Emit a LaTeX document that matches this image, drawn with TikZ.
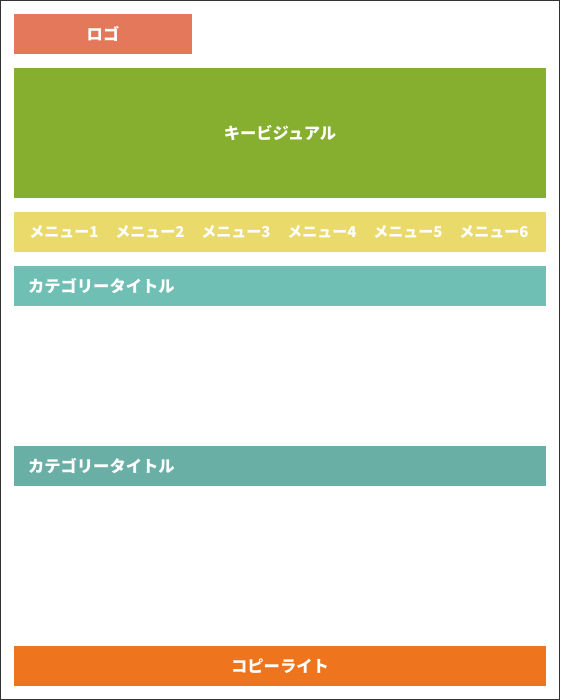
\documentclass[tikz,border=0pt]{standalone}
\usepackage{fontspec}
\setmainfont{Noto Sans CJK JP}
\usetikzlibrary{positioning}

\definecolor{logocol}{HTML}{E4785A}
\definecolor{visualcol}{HTML}{86AE2F}
\definecolor{menucol}{HTML}{E9DA6B}
\definecolor{catcol}{HTML}{6FBFB4}
\definecolor{catcoldark}{HTML}{6AAFA6}
\definecolor{footcol}{HTML}{EE751E}
\definecolor{framecol}{HTML}{333333}

\begin{document}
\begin{tikzpicture}[x=1pt, y=-1pt,
    block/.style={anchor=north west, inner sep=0pt, outer sep=0pt, text=white,
        font=\fontsize{16.3}{19}\selectfont\bfseries, minimum height=40pt},
    title/.style={block, text width=504pt, inner xsep=14pt, align=left}]
\fill[white] (0,0) rectangle (560,700);
\draw[framecol, line width=1pt] (0.5,0.5) rectangle (559.5,699.5);

\node[block, fill=logocol, minimum width=178pt] (logo) at (14,14) {ロゴ};
\node[block, fill=visualcol, minimum width=532pt, minimum height=130pt] (visual) at (14,68) {キービジュアル};
\node[block, fill=menucol, minimum width=532pt] (menu) at (14,212) {};
\foreach \i in {1,...,6}
    \node[text=white, font=\fontsize{15}{18}\selectfont\bfseries, inner sep=0pt] (menu\i) at ({64+86*(\i-1)}, 232) {メニュー\i};
\node[title, fill=catcol] (cat1) at (14,266) {カテゴリータイトル};
\node[title, fill=catcoldark] (cat2) at (14,446) {カテゴリータイトル};
\node[block, fill=footcol, minimum width=532pt] (footer) at (14,646) {コピーライト};

\end{tikzpicture}
\end{document}
